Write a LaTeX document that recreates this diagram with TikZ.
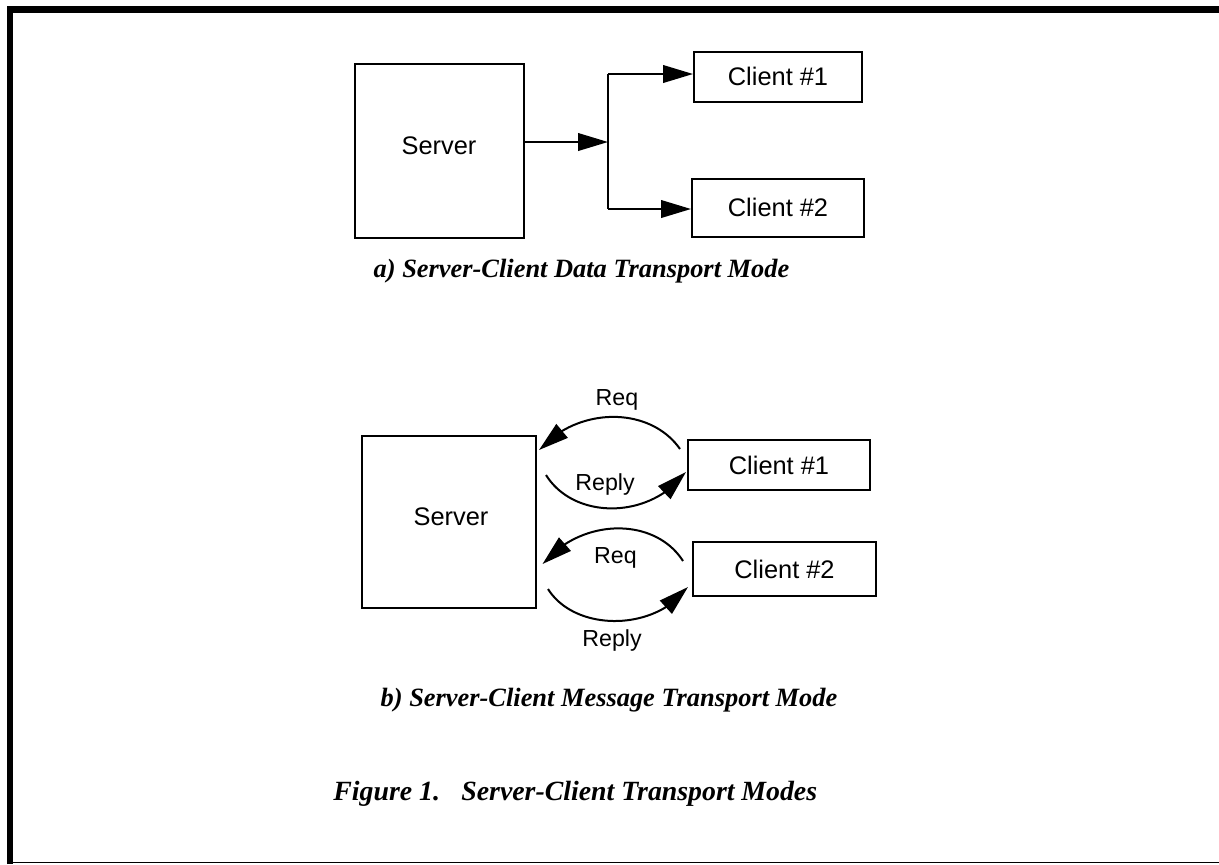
\documentclass[tikz,border=0pt]{standalone}
\usepackage{fontspec}
\setmainfont{Liberation Serif}
\newfontfamily\hv{Liberation Sans}
\usetikzlibrary{arrows.meta,bending}
\begin{document}
\begin{tikzpicture}[x=0.5pt,y=-0.5pt,
  box/.style={draw,line width=1pt,inner sep=0pt,font=\hv\fontsize{12.7}{15}\selectfont},
  lbl/.style={inner sep=0pt,font=\hv\fontsize{11.6}{14}\selectfont},
  captext/.style={inner sep=0pt,font=\fontsize{13.2}{16}\selectfont\bfseries\itshape},
  figtext/.style={inner sep=0pt,font=\fontsize{13.9}{17}\selectfont\bfseries\itshape},
  flow/.style={line width=1pt,-{Triangle[length=15pt,width=8.8pt]}},
  cflow/.style={line width=1pt,-{Triangle[length=15pt,width=8.8pt,flex]}},
  plainline/.style={line width=1pt}]
\useasboundingbox (0,0) rectangle (1219,864);
% page frame
\draw[line width=3.3pt] (10,864) -- (10,9.5) -- (1219,9.5);
\draw[line width=0.9pt] (10,862.5) -- (1219,862.5);

% a) data transport
\node[box,minimum width=84.5pt,minimum height=87pt] (srvA) at (439,151) {};
\node[inner sep=0pt,font=\hv\fontsize{12.7}{15}\selectfont] (srvAtxt) at (439,146) {Server};
\node[box,minimum width=84pt,minimum height=25pt] (cA1) at (778,76.5) {Client \#1};
\node[box,minimum width=86pt,minimum height=29pt] (cA2) at (778,207.5) {Client \#2};
\coordinate (fork) at (608,142);
\coordinate (forkT) at (608,74);
\coordinate (forkB) at (608,209);
\draw[flow] (srvA.east |- fork) -- (fork);
\draw[plainline] (forkT) -- (forkB);
\draw[flow] (forkT) -- (forkT -| cA1.west);
\draw[flow] (forkB) -- (forkB -| cA2.west);
\node[captext] (capA) at (581.5,271) {a) Server-Client Data Transport Mode};

% b) message transport
\node[box,minimum width=87pt,minimum height=86pt] (srvB) at (449,522) {};
\node[inner sep=0pt,font=\hv\fontsize{12.7}{15}\selectfont] (srvBtxt) at (451,517) {Server};
\node[box,minimum width=91pt,minimum height=25pt] (cB1) at (779,465) {Client \#1};
\node[box,minimum width=91.5pt,minimum height=27pt] (cB2) at (784.5,569) {Client \#2};
\coordinate (q1s) at (680,449);
\coordinate (q1e) at (539,450);
\coordinate (r1s) at (546,475);
\coordinate (r1e) at (686,472);
\coordinate (q2s) at (683,561);
\coordinate (q2e) at (542.5,564);
\coordinate (r2s) at (548,589);
\coordinate (r2e) at (688,587);
\draw[cflow] (q1s) .. controls (650,406) and (578,406) .. (q1e);
\draw[cflow] (r1s) .. controls (574,520) and (650,520) .. (r1e);
\draw[cflow] (q2s) .. controls (655,517) and (582,517) .. (q2e);
\draw[cflow] (r2s) .. controls (575,632) and (655,632) .. (r2e);
\node[lbl] (lq1) at (617,400) {Req};
\node[lbl] (lr1) at (605,484) {Reply};
\node[lbl] (lq2) at (615.5,558) {Req};
\node[lbl] (lr2) at (612,640) {Reply};
\node[captext] (capB) at (609,700) {b) Server-Client Message Transport Mode};

% figure caption
\node[figtext,anchor=west] (figno) at (333,794) {Figure 1.};
\node[figtext,anchor=west] (figtx) at (461,794) {Server-Client Transport Modes};
\end{tikzpicture}
\end{document}
